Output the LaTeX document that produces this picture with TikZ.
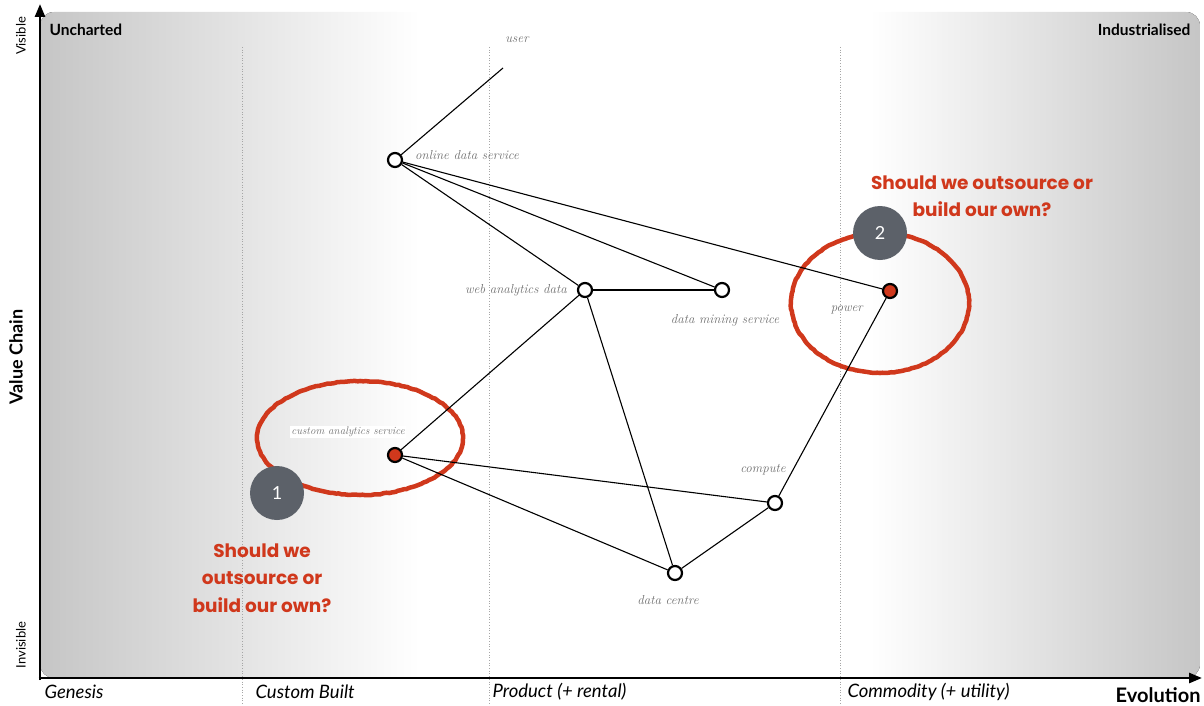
\documentclass[tikz,border=0pt]{standalone}
\usepackage{fontspec}
\newfontfamily\gillfont{Lato}
\newfontfamily\handfont{Poppins}
\definecolor{markred}{HTML}{D0381C}
\definecolor{badgegray}{HTML}{5C6169}
\definecolor{elvishgray}{HTML}{707070}
\usetikzlibrary{arrows.meta,calc,decorations.pathmorphing}
\begin{document}
\begin{tikzpicture}[x=1pt,y=-1pt,
comp/.style={circle,draw,line width=2.2pt,fill=white,minimum size=14pt,inner sep=0pt},
hot/.style={comp,fill=markred},
link/.style={line width=1.1pt},
tag/.style={font=\itshape\fontsize{13}{15}\selectfont,text=elvishgray,inner sep=1pt},
badge/.style={circle,fill=badgegray,minimum size=54pt,inner sep=0pt,text=white,font=\gillfont\fontsize{18}{18}\selectfont},
ask/.style={text=markred,font=\handfont\bfseries\fontsize{18.5}{27.5}\selectfont,align=center},
ring/.style={draw=markred,line width=4.5pt,decorate,decoration={random steps,segment length=3pt,amplitude=.4pt}},
axis/.style={line width=2.6pt,-{Triangle[length=13pt,width=10pt]}},
stage/.style={font=\gillfont\itshape\fontsize{18.5}{18.5}\selectfont,anchor=west}]
\useasboundingbox(0,0)rectangle(1204,706);
\begin{scope}\clip[rounded corners=14pt](40,12)rectangle(1200,678);
\fill[white](40,12)rectangle(1200,678);
\fill[left color=gray!45,right color=white](40,12)rectangle(420,678);
\fill[left color=white,right color=gray!45](870,12)rectangle(1200,678);
\end{scope}
\foreach \x in {242,489,840}\draw[dotted,gray!70,line width=.7pt](\x,47)--(\x,706);
\coordinate(origin)at(40,678);\coordinate(vtop)at(40,4);\coordinate(hend)at(1202,678);
\draw[axis]($(origin)+(0,2)$)--(vtop);\draw[axis]($(origin)+(-1.3,0)$)--(hend);
\node[rotate=90,font=\gillfont\fontsize{13}{13}\selectfont](visible)at(21,36){Visible};
\node[rotate=90,font=\gillfont\fontsize{13}{13}\selectfont](invisible)at(21,645){Invisible};
\node[rotate=90,font=\gillfont\bfseries\fontsize{18}{18}\selectfont](valuechain)at(16,357){Value Chain};
\node[anchor=west,font=\gillfont\bfseries\fontsize{15.5}{15.5}\selectfont](uncharted)at(46,30){Uncharted};
\node[anchor=east,font=\gillfont\bfseries\fontsize{15.5}{15.5}\selectfont](industrialised)at(1194,30){Industrialised};
\node[stage](genesis)at(41,692){Genesis};\node[stage](custombuilt)at(252,692){Custom Built};
\node[stage](product)at(489,692){Product (+ rental)};\node[stage](commodity)at(844,692){Commodity (+ utility)};
\node[anchor=east,font=\gillfont\bfseries\fontsize{20}{20}\selectfont](evolution)at(1204,695){Evolution};
\draw[ring](360,438)ellipse[x radius=103,y radius=57];\draw[ring](880,303)ellipse[x radius=89,y radius=70];
\coordinate(usr)at(503,68);
\node[comp](svc)at(395,160){};\node[comp](analytics)at(585,290){};\node[comp](mining)at(722,290){};
\node[hot](power)at(890,291){};\node[hot](custom)at(395,455){};
\node[comp](compute)at(775,503){};\node[comp](dc)at(675,573){};
\node[badge](badge1)at(277,493){1};\node[badge](badge2)at(880,233){2};
\draw[link](usr)--(svc);\draw[link](svc)--(analytics);\draw[link](svc)--(mining);\draw[link](svc)--(power);
\draw[link](analytics)--(mining);\draw[link](analytics)--(custom);\draw[link](analytics)--(dc);
\draw[link](custom)--(compute);\draw[link](custom)--(dc);\draw[link](dc)--(compute);\draw[link](compute)--(power);
\node[tag](usrtag)at(517,40){user};
\node[tag,anchor=west](svctag)at(414,155){online data service};
\node[tag,anchor=east](analyticstag)at(568,290){web analytics data};
\node[tag](miningtag)at(725,320){data mining service};
\node[tag,anchor=east](powertag)at(864,310){power};
\node[tag,fill=white,anchor=east,font=\itshape\fontsize{11}{13}\selectfont](customtag)at(406,432){custom analytics service};
\node[tag](computetag)at(763,470){compute};
\node[tag](dctag)at(668,600){data centre};
\node[ask](ask2)at(982,196){Should we outsource or\\build our own?};
\node[ask](ask1)at(262,578){Should we\\outsource or\\build our own?};
\end{tikzpicture}
\end{document}
